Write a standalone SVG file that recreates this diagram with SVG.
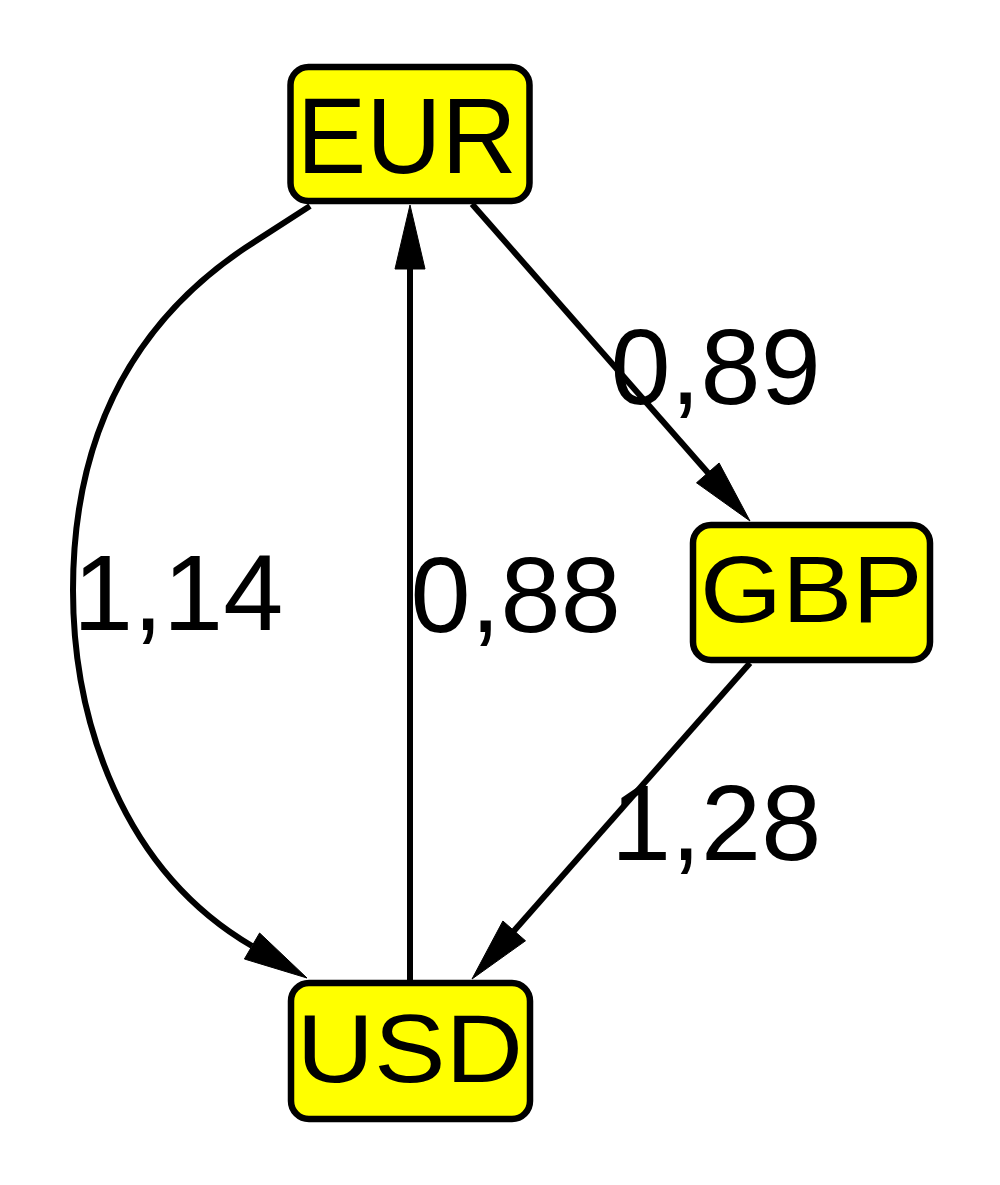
<svg xmlns="http://www.w3.org/2000/svg" width="1000" height="1185" viewBox="0 0 1000 1185">
<style>
.node rect{fill:#ffff00;stroke:#000;stroke-width:6.5}
.node text,.label{font-family:"Liberation Sans",Arial,sans-serif;fill:#000}
.edge{fill:none;stroke:#000;stroke-width:6}
.head{fill:#000;stroke:#000;stroke-width:1}
.label{font-size:108px}
</style>
<rect width="1000" height="1185" fill="#fff"/>
<g id="connectors">
  <g id="e-eur-usd">
    <path class="edge" d="M310,206 L245,248 C130,325 73,440 73,590 C73,720 122,870 252,946"/>
    <polygon class="head" points="307,978 244.4,959 259.6,933"/>
  </g>
  <g id="e-usd-eur">
    <path class="edge" d="M410,980 L410,266"/>
    <polygon class="head" points="410,205 395,269 425,269"/>
  </g>
  <g id="e-eur-gbp">
    <path class="edge" d="M472,204 L709,474"/>
    <polygon class="head" points="750,521 696.5,482.8 719.1,463"/>
  </g>
  <g id="e-gbp-usd">
    <path class="edge" d="M750,663 L513,932"/>
    <polygon class="head" points="472,979 525.5,940.8 502.9,921"/>
  </g>
  <text class="label" x="610.5" y="404">0,89</text>
  <text class="label" x="73" y="630">1,14</text>
  <text class="label" x="410.5" y="632">0,88</text>
  <text class="label" x="611" y="860">1,28</text>
</g>
<g id="EUR" class="node">
  <rect x="290.5" y="67" width="239" height="134" rx="18"/>
  <text x="296.8" y="173" font-size="108" textLength="220" lengthAdjust="spacingAndGlyphs">EUR</text>
</g>
<g id="GBP" class="node">
  <rect x="693" y="525" width="237" height="135" rx="18"/>
  <text x="700" y="622" font-size="95" textLength="222.7" lengthAdjust="spacingAndGlyphs">GBP</text>
</g>
<g id="USD" class="node">
  <rect x="291" y="983" width="239" height="136" rx="18"/>
  <text x="296.4" y="1082" font-size="96" textLength="226.6" lengthAdjust="spacingAndGlyphs">USD</text>
</g>
</svg>
